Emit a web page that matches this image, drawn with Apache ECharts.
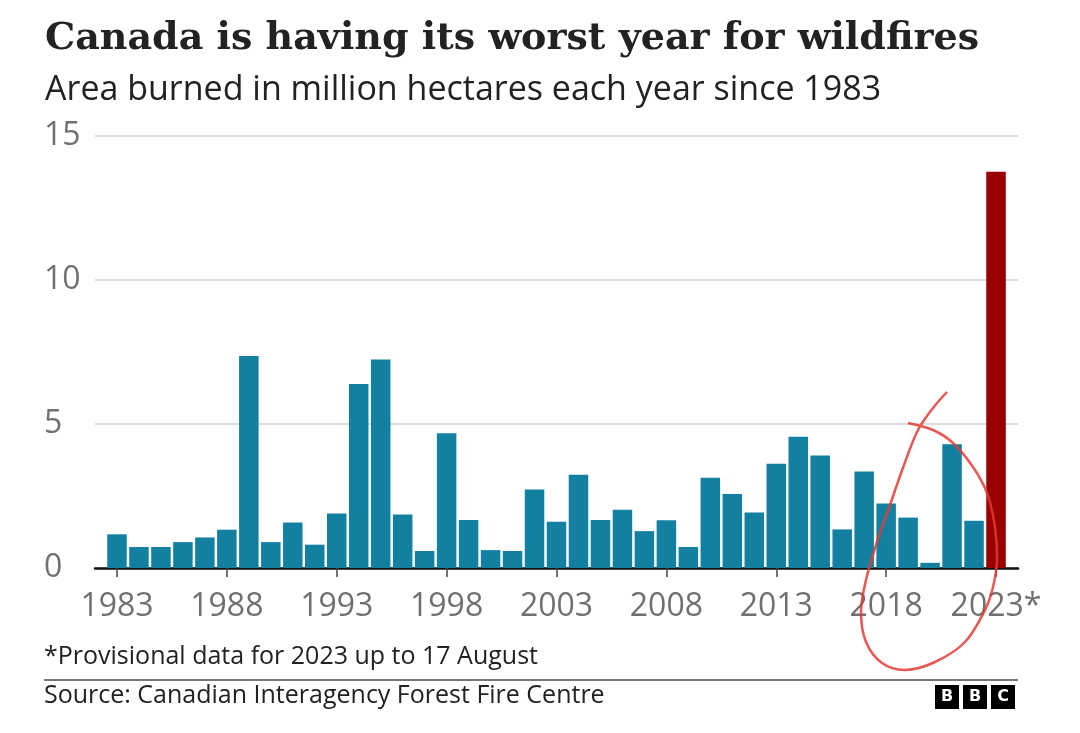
<!DOCTYPE html>
<html><head><meta charset="utf-8">
<script src="https://cdn.jsdelivr.net/npm/echarts@6/dist/echarts.min.js"></script>
<style>html,body{margin:0;padding:0;background:#fff}#c{width:1080px;height:733px}</style>
</head><body><div id="c"></div>
<script>
const years = [1983,1984,1985,1986,1987,1988,1989,1990,1991,1992,1993,1994,1995,1996,1997,1998,1999,2000,2001,2002,2003,2004,2005,2006,2007,2008,2009,2010,2011,2012,2013,2014,2015,2016,2017,2018,2019,2020,2021,2022,2023];
const areaBurned = [1.17,0.73,0.73,0.90,1.06,1.33,7.36,0.90,1.58,0.81,1.89,6.39,7.24,1.86,0.59,4.68,1.67,0.62,0.59,2.73,1.61,3.24,1.67,2.02,1.28,1.66,0.73,3.13,2.57,1.93,3.62,4.56,3.91,1.34,3.35,2.24,1.75,0.18,4.30,1.64,13.76];
const xTickYears = [1983,1988,1993,1998,2003,2008,2013,2018,2023];
const provisionalYear = 2023;
const yTicks = [0,5,10,15];

const chart = echarts.init(document.getElementById('c'), null, {renderer:'canvas'});
const data = years.map((y,i)=>({
  value:[y, areaBurned[i]],
  itemStyle:{color: y===provisionalYear ? '#990000' : '#1380A1'}
}));

const sans = '"Open Sans", "Noto Sans", sans-serif';

chart.setOption({
  animation:false,
  backgroundColor:'#fff',
  title:[{
    text:'Canada is having its worst year for wildfires',
    left:40, top:15,
    textStyle:{fontFamily:'"DejaVu Serif", serif', fontWeight:'bold', fontSize:38, color:'#222'}
  },{
    text:'Area burned in million hectares each year since 1983',
    left:40, top:68,
    textStyle:{fontFamily:sans, fontWeight:'normal', fontSize:34, color:'#222'}
  }],
  grid:{left:95, right:62, top:136, bottom:165, containLabel:false, outerBoundsMode:'none'},
  xAxis:{
    type:'value', min:1982, max:2024,
    splitLine:{show:false},
    axisLine:{show:true, onZero:false, lineStyle:{color:'#111', width:2.5}},
    axisTick:{show:true, customValues:xTickYears, length:9, lineStyle:{color:'#444', width:1.5}},
    axisLabel:{customValues:xTickYears, margin:23, color:'#707070', fontSize:32, fontFamily:sans,
      formatter:v => v===provisionalYear ? v+'*' : String(v)}
  },
  yAxis:{
    type:'value', min:0, max:15, interval:5,
    axisLine:{show:false}, axisTick:{show:false},
    splitLine:{lineStyle:{color:'#d0d0d0', width:1.5}},
    axisLabel:{customValues:yTicks, align:'left', margin:51, color:'#707070', fontSize:32, fontFamily:sans}
  },
  series:[{type:'bar', data:data, barWidth:19.5}],
  graphic:[
    {type:'text', left:44, top:644, style:{text:'*Provisional data for 2023 up to 17 August', font:'25px "Open Sans", sans-serif', fill:'#222'}},
    {type:'line', shape:{x1:44,y1:680,x2:1018,y2:680}, style:{stroke:'#777', lineWidth:2}},
    {type:'text', left:44, top:683, style:{text:'Source: Canadian Interagency Forest Fire Centre', font:'25px "Open Sans", sans-serif', fill:'#222'}},
    {type:'rect', shape:{x:935,y:685,width:24,height:24}, style:{fill:'#000'}},
    {type:'rect', shape:{x:963,y:685,width:24,height:24}, style:{fill:'#000'}},
    {type:'rect', shape:{x:991,y:685,width:24,height:24}, style:{fill:'#000'}},
    {type:'text', x:947, y:697, style:{text:'B', font:'bold 16px "DejaVu Sans", sans-serif', fill:'#fff', align:'center', verticalAlign:'middle'}},
    {type:'text', x:975, y:697, style:{text:'B', font:'bold 16px "DejaVu Sans", sans-serif', fill:'#fff', align:'center', verticalAlign:'middle'}},
    {type:'text', x:1003, y:697, style:{text:'C', font:'bold 16px "DejaVu Sans", sans-serif', fill:'#fff', align:'center', verticalAlign:'middle'}},
    {type:'polyline', z:100, shape:{smooth:0.35, points:[
      [908,423],[933,430],[953,443],[973,467],[987,493],[995,527],[997,560],[993,587],[985,610],[965,642],[935,662],[905,670],[882,663],[866,642],[861,612],[866,580],[876,545],[890,505],[904,465],[918,430],[933,408],[947,392]
    ]}, style:{stroke:'#e53935', lineWidth:2.5, fill:null, opacity:0.85}}
  ]
});
</script></body></html>
